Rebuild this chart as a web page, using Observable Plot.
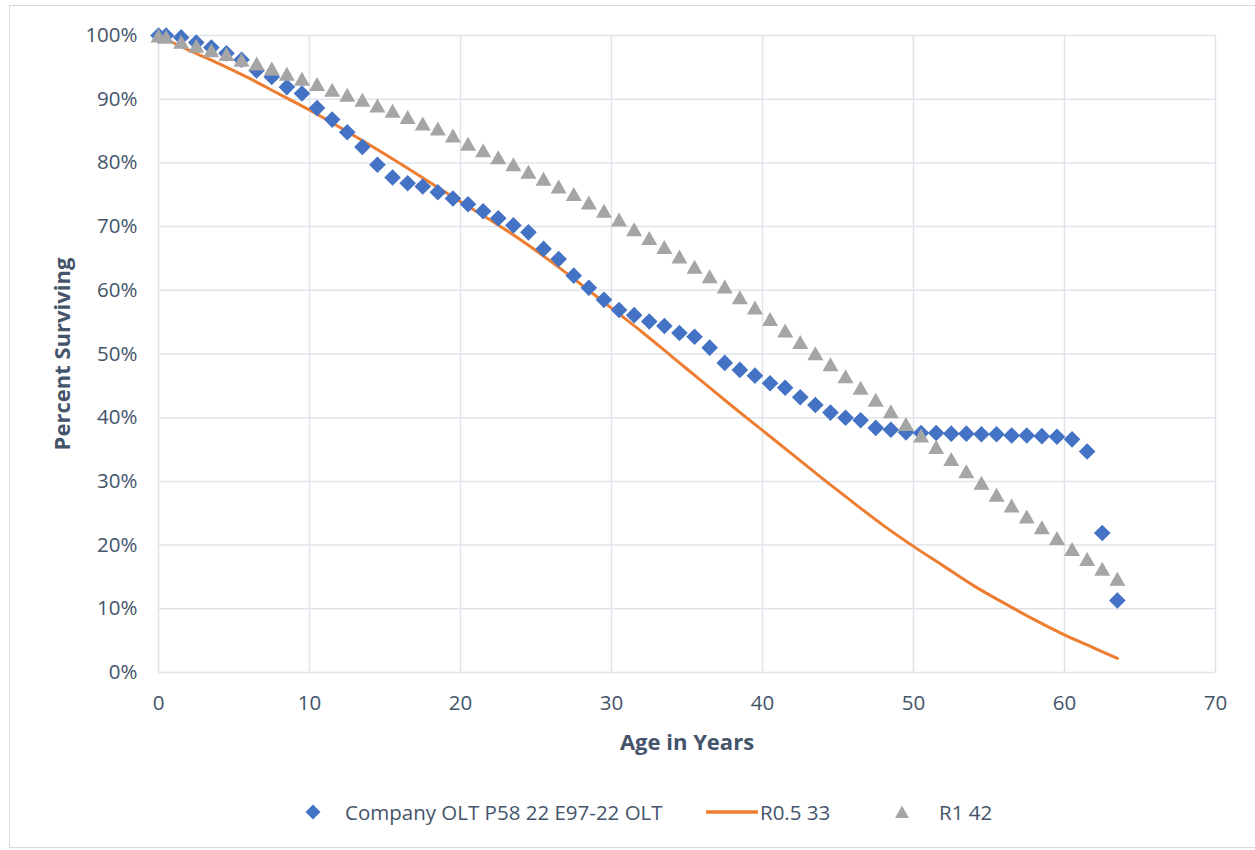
<!DOCTYPE html>
<html>
<head>
<meta charset="utf-8">
<script src="https://cdn.jsdelivr.net/npm/d3@7"></script>
<script src="https://cdn.jsdelivr.net/npm/@observablehq/plot@0.6"></script>
<style>
  body { margin: 0; background: #fff; font-family: "Open Sans", sans-serif; }
  #wrap { position: relative; width: 1255px; height: 850px; overflow: hidden; }
  #frame { position: absolute; left: 9px; top: 5px; width: 1280px; height: 843px; border: 1px solid #d9d9d9; box-sizing: border-box; }
  #chart { position: absolute; left: 0; top: 0; }
  #legend { position: absolute; left: 0; top: 797px; width: 1255px; height: 30px; color: #44546A; font-size: 20.5px; white-space: nowrap; }
  .item { position: absolute; top: 0; height: 30px; display: flex; align-items: center; }
  .sw { display: inline-block; flex: none; }
</style>
</head>
<body>
<div id="wrap">
  <div id="frame"></div>
  <div id="chart"></div>
  <div id="legend"></div>
</div>
<script>
// ---- data ----
const ages = [0, 0.5, 1.5, 2.5, 3.5, 4.5, 5.5, 6.5, 7.5, 8.5, 9.5,
  10.5, 11.5, 12.5, 13.5, 14.5, 15.5, 16.5, 17.5, 18.5, 19.5,
  20.5, 21.5, 22.5, 23.5, 24.5, 25.5, 26.5, 27.5, 28.5, 29.5,
  30.5, 31.5, 32.5, 33.5, 34.5, 35.5, 36.5, 37.5, 38.5, 39.5,
  40.5, 41.5, 42.5, 43.5, 44.5, 45.5, 46.5, 47.5, 48.5, 49.5,
  50.5, 51.5, 52.5, 53.5, 54.5, 55.5, 56.5, 57.5, 58.5, 59.5,
  60.5, 61.5, 62.5, 63.5];

const companyPct = [100, 100, 99.7, 98.9, 98.1, 97.2, 96.2, 94.5, 93.5, 91.9, 90.9,
  88.6, 86.8, 84.8, 82.5, 79.7, 77.7, 76.8, 76.3, 75.4, 74.4,
  73.5, 72.4, 71.3, 70.2, 69.1, 66.5, 64.9, 62.3, 60.4, 58.5,
  56.9, 56.1, 55.1, 54.4, 53.3, 52.7, 51.0, 48.6, 47.5, 46.6,
  45.4, 44.7, 43.2, 42.0, 40.8, 40.0, 39.6, 38.4, 38.1, 37.7,
  37.6, 37.6, 37.5, 37.5, 37.4, 37.4, 37.2, 37.2, 37.1, 37.0,
  36.6, 34.7, 21.9, 11.3];

const r1Pct = [100, 99.8, 99.0, 98.4, 97.7, 97.1, 96.2, 95.6, 94.8, 94.0, 93.2,
  92.4, 91.5, 90.7, 89.9, 89.0, 88.2, 87.2, 86.2, 85.4, 84.3,
  83.0, 82.0, 80.9, 79.8, 78.6, 77.5, 76.3, 75.1, 73.8, 72.5,
  71.1, 69.6, 68.2, 66.8, 65.3, 63.7, 62.2, 60.6, 58.9, 57.3,
  55.5, 53.7, 51.9, 50.1, 48.4, 46.5, 44.7, 42.8, 41.0, 39.0,
  37.2, 35.4, 33.5, 31.6, 29.8, 27.9, 26.2, 24.5, 22.8, 21.1,
  19.4, 17.8, 16.3, 14.7];

const r05Ages = [0, 2, 4, 6, 8, 10, 12, 14, 16, 18, 20, 22, 24, 26, 28, 30,
  32, 34, 36, 38, 40, 42, 44, 46, 48, 50, 52, 54, 56, 58, 60, 62, 63.5];
const r05Pct = [100, 97.7, 95.6, 93.3, 90.8, 88.3, 85.6, 82.8, 79.9, 76.9, 73.9,
  71.0, 67.9, 64.5, 60.9, 57.2, 53.5, 49.6, 45.7, 41.8, 38.0, 34.2, 30.4,
  26.7, 23.1, 19.8, 16.7, 13.6, 10.9, 8.3, 5.9, 3.8, 2.2];

const xTicks = [0, 10, 20, 30, 40, 50, 60, 70];
const yTicks = [0, 10, 20, 30, 40, 50, 60, 70, 80, 90, 100];

const seriesNames = ["Company OLT P58 22 E97-22 OLT", "R0.5 33", "R1 42"];
const colors = ["#4472C4", "#ED7D31", "#A5A5A5"];
const xTitle = "Age in Years";
const yTitle = "Percent Surviving";

// ---- tables ----
const company = ages.map((a, i) => ({age: a, pct: companyPct[i]}));
const r1 = ages.map((a, i) => ({age: a, pct: r1Pct[i]}));
const r05 = r05Ages.map((a, i) => ({age: a, pct: r05Pct[i]}));

// Excel-like marker shapes (centered on bounding box)
const diamondSym = { draw(c, size) { const h = Math.sqrt(size / Math.PI);
  c.moveTo(0, -h); c.lineTo(h, 0); c.lineTo(0, h); c.lineTo(-h, 0); c.closePath(); } };
const triSym = { draw(c, size) { const h = Math.sqrt(size / Math.PI);
  c.moveTo(0, -0.875 * h); c.lineTo(h, 0.875 * h); c.lineTo(-h, 0.875 * h); c.closePath(); } };

const textColor = "#44546A";
const gridColor = "#dfe3ea";

const chart = Plot.plot({
  width: 1255,
  height: 780,
  marginLeft: 158,
  marginRight: 40,
  marginTop: 35,
  marginBottom: 108,
  x: {domain: [0, 70]},
  y: {domain: [0, 100]},
  style: {fontFamily: "Open Sans, sans-serif", fontSize: "20.5px", color: textColor, background: "transparent"},
  marks: [
    Plot.gridX(xTicks, {stroke: gridColor, strokeOpacity: 1, strokeWidth: 1.5}),
    Plot.gridY(yTicks, {stroke: gridColor, strokeOpacity: 1, strokeWidth: 1.5}),
    Plot.axisX(xTicks, {tickSize: 0, tickPadding: 23, label: null, fill: textColor}),
    Plot.axisY(yTicks, {tickSize: 0, tickPadding: 21, label: null, tickFormat: d => d + "%", fill: textColor}),
    Plot.line(r05, {x: "age", y: "pct", stroke: colors[1], strokeWidth: 3, curve: "monotone-x"}),
    Plot.dot(company, {x: "age", y: "pct", symbol: diamondSym, r: 8.3, fill: colors[0], stroke: "none"}),
    Plot.dot(r1, {x: "age", y: "pct", symbol: triSym, r: 8, fill: colors[2], stroke: "none"}),
    Plot.text([xTitle], {frameAnchor: "bottom", dy: 70, text: d => d, fontWeight: "bold", fontSize: 22, fill: textColor, lineAnchor: "middle", textAnchor: "middle"}),
    Plot.text([yTitle], {frameAnchor: "left", dx: -96, rotate: -90, text: d => d, fontWeight: "bold", fontSize: 22, fill: textColor, lineAnchor: "middle", textAnchor: "middle"})
  ]
});
document.getElementById("chart").appendChild(chart);

// ---- legend ----
const legend = document.getElementById("legend");
const diamondSvg = `<svg class="sw" width="16" height="16" viewBox="-8 -8 16 16" style="margin-right:24px"><path d="M0,-7.5L7.5,0L0,7.5L-7.5,0Z" fill="${colors[0]}"/></svg>`;
const lineSvg = `<svg class="sw" width="52" height="6" viewBox="0 0 52 6" style="margin-right:2px"><line x1="0" y1="3" x2="52" y2="3" stroke="${colors[1]}" stroke-width="3.5"/></svg>`;
const triSvg = `<svg class="sw" width="16" height="16" viewBox="-8 -8 16 16" style="margin-right:29px"><path d="M0,-6.5L7,6L-7,6Z" fill="${colors[2]}"/></svg>`;
legend.innerHTML =
  `<div class="item" style="left:305px">${diamondSvg}<span>${seriesNames[0]}</span></div>` +
  `<div class="item" style="left:706px">${lineSvg}<span>${seriesNames[1]}</span></div>` +
  `<div class="item" style="left:894px">${triSvg}<span>${seriesNames[2]}</span></div>`;
</script>
</body>
</html>
